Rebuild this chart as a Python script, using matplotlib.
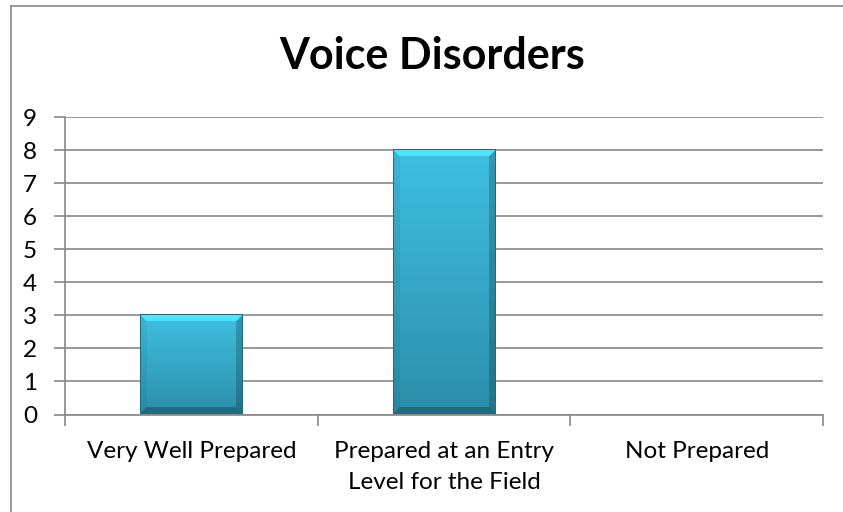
import numpy as np
import matplotlib
matplotlib.use("Agg")
import matplotlib.pyplot as plt
from matplotlib.lines import Line2D

categories = ["Very Well Prepared", "Prepared at an Entry\nLevel for the Field", "Not Prepared"]
counts = [3, 8, 0]
y_ticks = list(range(0, 10))

plt.rcParams['font.family'] = ['Lato', 'DejaVu Sans']

GRID = "#888888"


def bar_shading(h_px, w_px, bev=7):
    # base colour: lighter at the top, darker towards the bottom
    yy, xx = np.mgrid[0:h_px, 0:w_px]
    t = yy / max(h_px - 1, 1)
    top = np.array([0.25, 0.75, 0.88])
    bot = np.array([0.17, 0.56, 0.67])
    img = top[None, None, :] * (1 - t[..., None]) + bot[None, None, :] * t[..., None]
    # bevel faces
    d_top = yy
    d_bot = h_px - 1 - yy
    d_left = xx
    d_right = w_px - 1 - xx
    dmin = np.minimum(np.minimum(d_top, d_bot), np.minimum(d_left, d_right))
    face = dmin < bev
    fac = np.ones((h_px, w_px))
    fac[face & (d_top == dmin)] = 1.2
    fac[face & (d_left == dmin) & (d_top != dmin)] = 0.95
    fac[face & (d_right == dmin) & (d_top != dmin)] = 0.8
    fac[face & (d_bot == dmin)] = 0.75
    img = np.clip(img * fac[..., None], 0, 1)
    # thin dark outline
    edge = dmin < 1
    img[edge] = [0.12, 0.42, 0.50]
    return img


fig = plt.figure(figsize=(8.43, 5.12), dpi=100)
ax = fig.add_axes([65 / 843, 1 - 414.5 / 512, (823 - 65) / 843, (414.5 - 117) / 512])

# outer chart frame (only top and left edges are inside the picture)
fx, fy = 10.5 / 843, 1 - 5.5 / 512
fig.lines.append(Line2D([fx, 1.05], [fy, fy], transform=fig.transFigure, color=GRID, linewidth=1.2))
fig.lines.append(Line2D([fx, fx], [-0.05, fy], transform=fig.transFigure, color=GRID, linewidth=1.2))

x = np.arange(len(categories))
bars = ax.bar(x, counts, width=0.405, color="none", edgecolor="none", zorder=3)

ax.set_xlim(-0.5, len(categories) - 0.5)
ax.set_ylim(0, 9)
ax.set_yticks(y_ticks)
ax.set_xticks(x)
ax.set_xticklabels(categories, fontsize=17.5, linespacing=1.62)
ax.set_xticks(np.arange(-0.5, len(categories)), minor=True)
ax.tick_params(axis="x", which="major", length=0, pad=19)
ax.tick_params(axis="x", which="minor", length=8, color=GRID, width=1.2, direction="out")
ax.tick_params(axis="y", length=8, color=GRID, width=1.2, labelsize=17.5, pad=12)
ax.yaxis.grid(True, color=GRID, linewidth=1.2)
ax.set_axisbelow(True)
for s in ["top", "right"]:
    ax.spines[s].set_visible(False)
for s in ["left", "bottom"]:
    ax.spines[s].set_color(GRID)
    ax.spines[s].set_linewidth(1.2)

fig.text(432 / 843, 1 - 56 / 512, "Voice Disorders", fontsize=31, fontweight="bold",
         ha="center", va="center")

# shaded bevel look for each bar
fig.canvas.draw()
for b in bars:
    h = b.get_height()
    if h <= 0:
        continue
    x0, y0 = b.get_x(), b.get_y()
    w = b.get_width()
    p0 = ax.transData.transform((x0, y0))
    p1 = ax.transData.transform((x0 + w, y0 + h))
    w_px = int(round(p1[0] - p0[0]))
    h_px = int(round(p1[1] - p0[1]))
    img = bar_shading(h_px, w_px)
    ax.imshow(img, extent=(x0, x0 + w, y0, y0 + h), aspect="auto", zorder=3,
              interpolation="nearest")

ax.set_xlim(-0.5, len(categories) - 0.5)
ax.set_ylim(0, 9)

fig.savefig("out.png", dpi=100)
